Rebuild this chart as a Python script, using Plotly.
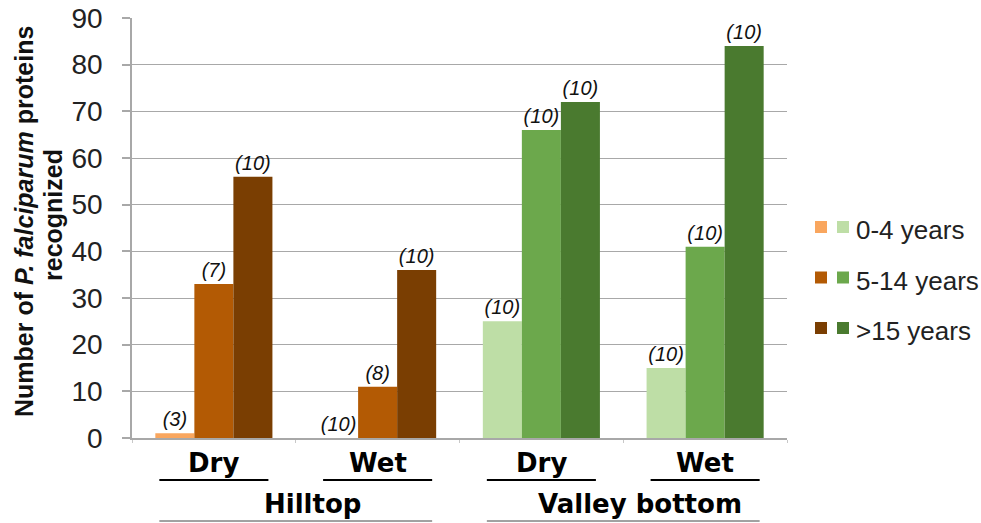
import plotly.graph_objects as go

# ---- data ----
categories = ["Hilltop Dry", "Hilltop Wet", "Valley bottom Dry", "Valley bottom Wet"]
season_labels = ["Dry", "Wet", "Dry", "Wet"]
site_labels = ["Hilltop", "Valley bottom"]
age_groups = ["0-4 years", "5-14 years", ">15 years"]

values_0_4 = [1, 0, 25, 15]
values_5_14 = [33, 11, 66, 41]
values_15 = [56, 36, 72, 84]

n_0_4 = [3, 10, 10, 10]
n_5_14 = [7, 8, 10, 10]
n_15 = [10, 10, 10, 10]

y_ticks = [0, 10, 20, 30, 40, 50, 60, 70, 80, 90]

# ---- styles ----
hill_colors = ["#F9A65E", "#B35A04", "#7A3E02"]
valley_colors = ["#BEDEA6", "#6CA84C", "#4A7A2F"]
FONT = "Liberation Sans, Arial, sans-serif"
BOLD_FONT = "DejaVu Sans, Liberation Sans, Arial, sans-serif"

PL, PR, PT, PB = 132, 787, 18, 438
def px_x(x):
    return (x - PL) / (PR - PL)
def px_y(y):
    return (PB - y) / (PB - PT)

series = [values_0_4, values_5_14, values_15]
counts = [n_0_4, n_5_14, n_15]

fig = go.Figure()
for i, name in enumerate(age_groups):
    colors = [hill_colors[i] if c.startswith("Hilltop") else valley_colors[i] for c in categories]
    fig.add_trace(go.Bar(
        x=categories, y=series[i], name=name,
        marker=dict(color=colors, line=dict(width=0)),
        text=[f"({n})" for n in counts[i]],
        textposition="outside",
        textfont=dict(family=FONT, size=20, color="#111111", style="italic"),
        constraintext="none",
        cliponaxis=False,
        showlegend=False,
    ))

fig.update_layout(
    template="none",
    width=981, height=523,
    margin=dict(l=PL, r=981 - PR, t=PT, b=523 - PB, autoexpand=False),
    paper_bgcolor="white", plot_bgcolor="white",
    barmode="group", bargap=0.285, bargroupgap=0,
    font=dict(family=FONT),
    showlegend=False,
)

fig.update_yaxes(
    range=[0, 90], tickvals=y_ticks, automargin=False,
    showgrid=True, gridcolor="#A8A8A8", gridwidth=1.2,
    showline=True, linecolor="#A8A8A8", linewidth=1.5,
    ticks="outside", ticklen=8, tickcolor="#A8A8A8", tickwidth=1.5,
    ticklabelstandoff=14,
    tickfont=dict(family=FONT, size=28, color="#222222"),
    zeroline=False,
)
fig.update_xaxes(
    automargin=False,
    showticklabels=False, showline=True, linecolor="#A8A8A8", linewidth=1.5,
    ticks="outside", tickson="boundaries", ticklen=3, tickcolor="#C8C8C8",
    showgrid=False, zeroline=False,
)

# y-axis title (two lines)
fig.add_annotation(
    text="<b>Number of <i>P. falciparum</i> proteins</b>",
    xref="paper", yref="paper", x=px_x(24), y=px_y(222),
    xanchor="center", yanchor="middle", textangle=-90, showarrow=False,
    font=dict(family=FONT, size=25, color="#111111"),
)
fig.add_annotation(
    text="<b>recognized</b>",
    xref="paper", yref="paper", x=px_x(53), y=px_y(215),
    xanchor="center", yanchor="middle", textangle=-90, showarrow=False,
    font=dict(family=FONT, size=25, color="#111111"),
)

# category labels and underlines
for k, lab in enumerate(season_labels):
    fig.add_annotation(
        text=f"<b>{lab}</b>", x=k, xref="x", y=px_y(463), yref="paper",
        showarrow=False, xanchor="center", yanchor="middle",
        font=dict(family=BOLD_FONT, size=26, color="#000000"),
    )
    fig.add_shape(type="line", xref="x", yref="paper",
                  x0=k - 0.333, x1=k + 0.333, y0=px_y(480), y1=px_y(480),
                  line=dict(color="#000000", width=2))

for j, site in enumerate(site_labels):
    fig.add_annotation(
        text=f"<b>{site}</b>", x=2 * j + 0.6, xref="x", y=px_y(504), yref="paper",
        showarrow=False, xanchor="center", yanchor="middle",
        font=dict(family=BOLD_FONT, size=26, color="#000000"),
    )
    fig.add_shape(type="line", xref="x", yref="paper",
                  x0=2 * j - 0.333, x1=2 * j + 1.333, y0=px_y(521), y1=px_y(521),
                  line=dict(color="#444444", width=1))

# manual legend with paired swatches
for i, name in enumerate(age_groups):
    yc = 227 + 50.5 * i
    for cx, col in ((821, hill_colors[i]), (843, valley_colors[i])):
        fig.add_shape(type="rect", xref="paper", yref="paper",
                      x0=px_x(cx - 6), x1=px_x(cx + 6),
                      y0=px_y(yc + 6), y1=px_y(yc - 6),
                      fillcolor=col, line=dict(width=0))
    fig.add_annotation(text=name, xref="paper", yref="paper",
                       x=px_x(854), y=px_y(yc + 3),
                       showarrow=False, xanchor="left", yanchor="middle",
                       font=dict(family=FONT, size=26, color="#222222"))

fig.write_html("out.html", config={"displayModeBar": False},
               post_script="document.body.style.margin='0px';")
